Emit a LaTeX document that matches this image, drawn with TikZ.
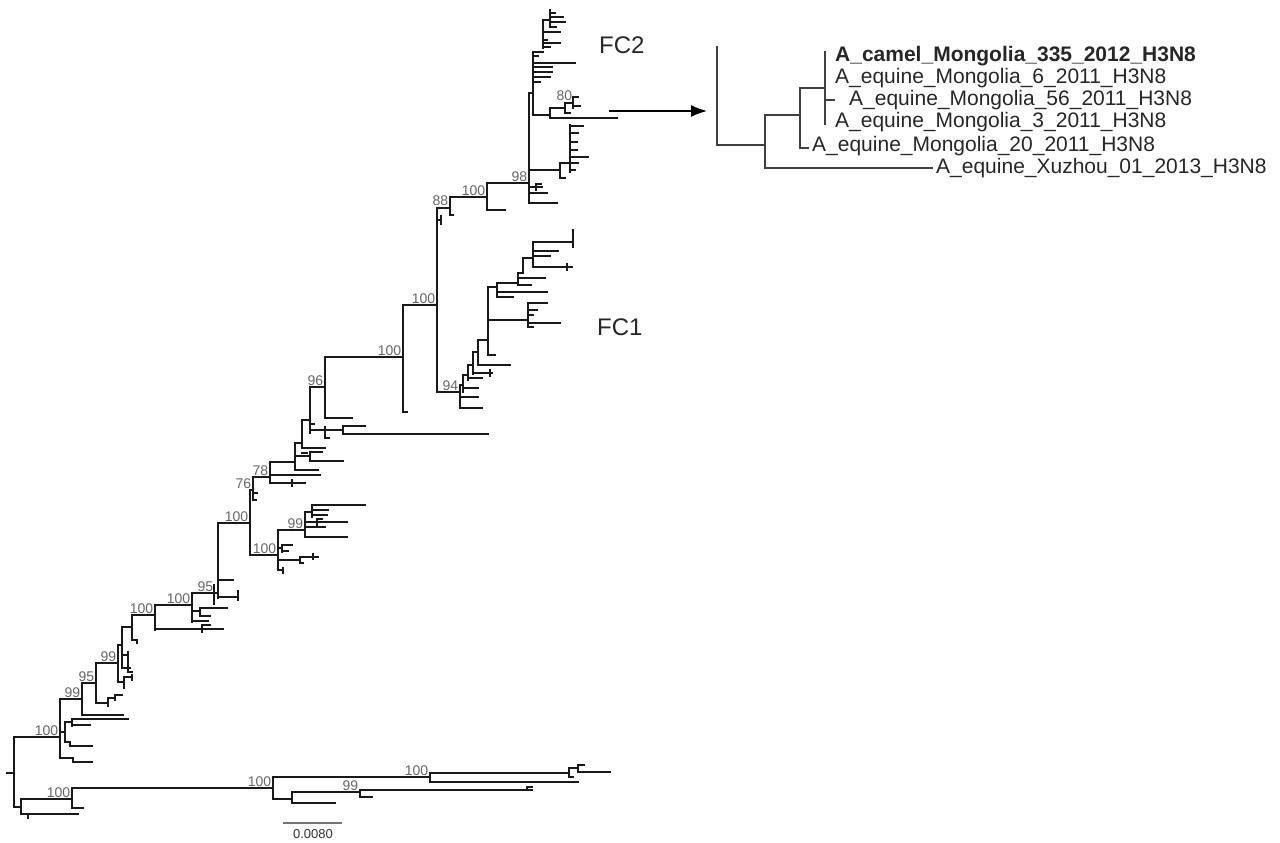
\documentclass[tikz,border=0pt]{standalone}
\usepackage{fontspec}
\setmainfont{Liberation Sans}
\usetikzlibrary{arrows.meta}
\tikzset{
  br/.style={line width=1.7pt, line cap=rect, black!90},
  ib/.style={line width=1.1pt, line cap=rect, black!75},
  bs/.style={font=\fontsize{14}{14}\selectfont, text=black!60, inner sep=0.6pt, anchor=south east},
  tip/.style={font=\fontsize{21}{22}\selectfont, text=black!85, inner sep=0pt, anchor=west},
  clade/.style={font=\fontsize{24}{24}\selectfont, text=black!85, inner sep=0pt, anchor=west}
}
\newcommand\hbr[3]{\draw[br] (#1,#3) -- (#2,#3);}
\newcommand\vbr[3]{\draw[br] (#1,#2) -- (#1,#3);}
\begin{document}
\begin{tikzpicture}[x=1pt,y=-1pt]
\useasboundingbox (0,0) rectangle (1280,843);
% ---------- root ----------
\hbr{7}{14}{773}
\vbr{14}{737}{807}
\hbr{14}{60}{737}
\hbr{14}{21}{807}
% lower outgroup clade
\vbr{21}{799}{814}
\hbr{21}{72}{799}
\hbr{21}{78}{814} \vbr{28}{814}{818}
\vbr{72}{788}{808}
\hbr{72}{273}{788}
\hbr{72}{83}{808}
\vbr{273}{777}{799}
\hbr{273}{430}{777}
\hbr{273}{292}{799}
\vbr{430}{773}{782}
\hbr{430}{569}{773}
\vbr{569}{768}{777} \hbr{569}{578}{768} \vbr{578}{765}{772} \hbr{578}{584}{765} \hbr{578}{610}{772} \hbr{569}{573}{777}
\hbr{430}{578}{782}
\vbr{292}{792}{803}
\hbr{292}{360}{792}
\hbr{292}{335}{803}
\vbr{360}{790}{797}
\hbr{360}{532}{790} \vbr{527}{787}{790} \hbr{527}{532}{787}
\hbr{360}{372}{797}
% ---------- node 60 ----------
\vbr{60}{699}{758}
\hbr{60}{82}{699}
\hbr{60}{65}{732}
\vbr{65}{722}{742}
\hbr{65}{72}{722} \vbr{72}{719}{726} \hbr{72}{128}{719} \hbr{72}{90}{725}
\hbr{65}{70}{742} \vbr{70}{742}{746} \hbr{70}{92}{746}
\hbr{60}{73}{758} \vbr{73}{758}{762} \hbr{73}{92}{762}
\vbr{82}{683}{715}
\hbr{82}{96}{683}
\hbr{82}{123}{715}
\vbr{96}{663}{703}
\hbr{96}{118}{663}
\hbr{96}{108}{703} \vbr{108}{698}{706} \hbr{108}{115}{698} \vbr{115}{695}{700} \hbr{115}{122}{695}
\vbr{118}{645}{682}
\hbr{118}{122}{645}
\vbr{122}{627}{668} \hbr{122}{130}{668}
\hbr{122}{128}{655} \vbr{128}{652}{672} \hbr{128}{132}{672}
\hbr{118}{124}{682} \vbr{124}{677}{688} \hbr{124}{132}{677} \vbr{132}{675}{680}
\hbr{122}{132}{627}
\vbr{132}{615}{640}
\hbr{132}{155}{615}
\hbr{132}{137}{640} \vbr{137}{640}{643}
\vbr{155}{605}{630}
\hbr{155}{192}{605}
\hbr{155}{223}{629} \vbr{202}{625}{632} \hbr{202}{210}{625}
\vbr{192}{593}{622}
\hbr{192}{218}{593}
\hbr{192}{200}{611} \vbr{200}{608}{616} \hbr{200}{227}{608} \hbr{200}{210}{616}
\hbr{192}{208}{621}
\vbr{214}{585}{604}
\vbr{218}{523}{598}
\hbr{218}{250}{523}
\hbr{218}{233}{580}
\hbr{218}{238}{597} \vbr{238}{591}{600}
% ---------- node 250 ----------
\vbr{250}{490}{555}
\hbr{250}{253}{490}
\hbr{250}{278}{555}
\vbr{253}{477}{500}
\hbr{253}{270}{477}
\hbr{253}{257}{493} \hbr{253}{256}{500}
\vbr{270}{462}{483}
\hbr{270}{295}{462}
\hbr{270}{320}{475}
\hbr{270}{305}{483} \vbr{292}{480}{486}
\vbr{295}{443}{470}
\hbr{295}{302}{443}
\hbr{295}{310}{456} \vbr{310}{452}{461} \hbr{310}{343}{461} \hbr{310}{322}{452}
\hbr{295}{318}{470}
\vbr{302}{420}{448}
\hbr{302}{310}{420}
\hbr{302}{325}{448} \hbr{302}{307}{453}
\vbr{310}{387}{433}
\hbr{310}{325}{387}
\hbr{310}{314}{424}
\hbr{310}{325}{430}
\vbr{325}{427}{438}
\hbr{325}{343}{430}
\hbr{325}{329}{438}
\vbr{343}{426}{434}
\hbr{343}{365}{426}
\hbr{343}{488}{434}
\vbr{325}{357}{418}
\hbr{325}{403}{357}
\hbr{325}{352}{418}
\vbr{403}{305}{412}
\hbr{403}{437}{305}
\hbr{403}{407}{412}
\vbr{437}{208}{392}
\hbr{437}{450}{208}
\hbr{437}{441}{220} \vbr{441}{216}{224}
\hbr{437}{460}{392}
\vbr{450}{197}{215}
\hbr{450}{487}{197}
\hbr{450}{453}{215}
\vbr{487}{183}{210}
\hbr{487}{529}{183}
\hbr{487}{505}{210}
% ---------- FC2 ----------
\vbr{529}{93}{203}
\hbr{529}{533}{93}
\hbr{529}{560}{170}
\hbr{529}{542}{187} \vbr{536}{184}{190} \hbr{536}{541}{184}
\hbr{529}{547}{193}
\hbr{529}{557}{203}
\vbr{533}{52}{115}
\hbr{533}{550}{115}
\hbr{533}{543}{52}
\vbr{543}{20}{48}
\hbr{543}{550}{20}
\vbr{550}{10}{27}
\hbr{550}{555}{13} \hbr{550}{563}{17} \hbr{550}{565}{22} \hbr{550}{556}{27}
\hbr{543}{560}{32} \hbr{543}{547}{40} \hbr{543}{560}{43} \hbr{543}{550}{47}
\hbr{533}{538}{56} \hbr{533}{575}{63} \hbr{533}{552}{67} \hbr{533}{552}{72} \hbr{533}{550}{77} \hbr{533}{540}{82}
\vbr{550}{108}{118}
\hbr{550}{565}{108}
\vbr{565}{103}{113}
\hbr{565}{573}{103}
\hbr{565}{570}{113}
\vbr{573}{97}{108}
\hbr{573}{578}{97} \hbr{573}{580}{106}
\hbr{550}{617}{118}
\vbr{560}{163}{178}
\hbr{560}{570}{163}
\hbr{560}{565}{178}
\vbr{570}{125}{172}
\hbr{570}{583}{126} \hbr{570}{578}{133} \hbr{570}{577}{142} \hbr{570}{577}{150} \hbr{570}{588}{157} \hbr{570}{578}{163} \hbr{570}{575}{170}
% ---------- FC1 ----------
\vbr{460}{385}{408}
\hbr{460}{463}{385}
\hbr{460}{478}{397}
\hbr{460}{482}{408}
\vbr{463}{375}{392}
\hbr{463}{468}{375}
\hbr{463}{478}{388}
\vbr{468}{365}{380}
\hbr{468}{473}{365}
\hbr{468}{482}{378}
\vbr{473}{352}{374}
\hbr{473}{478}{352}
\hbr{473}{492}{373} \vbr{490}{370}{376}
\vbr{478}{340}{365}
\hbr{478}{488}{340}
\hbr{478}{510}{365}
\vbr{488}{287}{355}
\hbr{488}{495}{355}
\hbr{488}{497}{287}
\hbr{488}{528}{320}
\vbr{497}{283}{297}
\hbr{497}{518}{283}
\hbr{497}{547}{292}
\hbr{497}{513}{297}
\vbr{518}{273}{285}
\hbr{518}{523}{273}
\hbr{518}{545}{278}
\hbr{518}{531}{285}
\vbr{523}{258}{273}
\hbr{523}{533}{258}
\vbr{533}{242}{267}
\hbr{533}{573}{242} \vbr{573}{230}{247}
\hbr{533}{558}{251}
\hbr{533}{550}{256}
\hbr{533}{572}{267} \vbr{567}{264}{270}
\vbr{528}{303}{327}
\hbr{528}{547}{303} \hbr{528}{537}{310} \hbr{528}{533}{315} \hbr{528}{560}{323} \hbr{528}{533}{327}
% ---------- node 278 ----------
\vbr{278}{530}{570}
\hbr{278}{305}{530}
\vbr{305}{512}{537}
\hbr{305}{312}{512}
\hbr{305}{347}{522} \vbr{317}{519}{525} \hbr{317}{322}{519}
\hbr{305}{325}{527}
\hbr{305}{347}{537}
\vbr{312}{505}{517}
\hbr{312}{365}{505} \hbr{312}{328}{510} \hbr{312}{327}{515}
\hbr{278}{282}{548} \vbr{282}{545}{552} \hbr{282}{292}{545} \hbr{282}{288}{551}
\hbr{278}{300}{560} \vbr{300}{557}{563} \hbr{300}{318}{557} \vbr{313}{554}{559} \hbr{300}{303}{563}
\hbr{278}{283}{570} \vbr{283}{568}{573}
% ---------- bootstrap labels ----------
\node[bs] (b1) at (59,736) {100};
\node[bs] (b2) at (71,798) {100};
\node[bs] (b3) at (272,787) {100};
\node[bs] (b4) at (429,776) {100};
\node[bs] (b5) at (359,791) {99};
\node[bs] (b6) at (81,698) {99};
\node[bs] (b7) at (95,682) {95};
\node[bs] (b8) at (117,662) {99};
\node[bs] (b9) at (154,614) {100};
\node[bs] (b10) at (191,604) {100};
\node[bs] (b11) at (214,592) {95};
\node[bs] (b12) at (249,522) {100};
\node[bs] (b13) at (277,554) {100};
\node[bs] (b14) at (304,529) {99};
\node[bs] (b15) at (252,489) {76};
\node[bs] (b16) at (269,476) {78};
\node[bs] (b17) at (324,386) {96};
\node[bs] (b18) at (402,356) {100};
\node[bs] (b19) at (436,304) {100};
\node[bs] (b20) at (449,206) {88};
\node[bs] (b21) at (486,196) {100};
\node[bs] (b22) at (528,182) {98};
\node[bs] (b23) at (573,101) {80};
\node[bs] (b24) at (459,391) {94};
% clade labels
\node[clade] (fc2) at (599,45) {FC2};
\node[clade] (fc1) at (597,327) {FC1};
% scale bar
\draw[line width=1.2pt, black!55] (283,823) -- (342,823);
\node[font=\fontsize{13}{13}\selectfont, text=black!80, inner sep=0pt] (sc) at (313,834) {0.0080};
% ---------- arrow ----------
\coordinate (arS) at (609,111);
\coordinate (arE) at (707,111);
\draw[line width=1.5pt, black, -{Latex[length=16pt,width=12pt]}] (arS) -- (arE);
% ---------- inset ----------
\node[tip, font=\fontsize{21}{22}\selectfont\bfseries] (t1) at (835,56) {A\_camel\_Mongolia\_335\_2012\_H3N8};
\node[tip] (t2) at (835,78) {A\_equine\_Mongolia\_6\_2011\_H3N8};
\node[tip] (t3) at (849,100) {A\_equine\_Mongolia\_56\_2011\_H3N8};
\node[tip] (t4) at (835,122) {A\_equine\_Mongolia\_3\_2011\_H3N8};
\node[tip] (t5) at (812,146) {A\_equine\_Mongolia\_20\_2011\_H3N8};
\node[tip] (t6) at (936,168) {A\_equine\_Xuzhou\_01\_2013\_H3N8};
\coordinate (iroot) at (717,145);
\coordinate (n1) at (765,145);
\coordinate (n2) at (800,115);
\coordinate (n3) at (825,88);
\draw[ib] (717,47) -- (iroot) -- (n1);
\draw[ib] (765,115) -- (765,168) -- (932,168);
\draw[ib] (765,115) -- (n2);
\draw[ib] (800,88) -- (800,148) -- (808,148);
\draw[ib] (800,88) -- (n3);
\draw[ib] (825,52) -- (825,124);
\draw[ib] (825,100) -- (834,100);
\end{tikzpicture}
\end{document}
